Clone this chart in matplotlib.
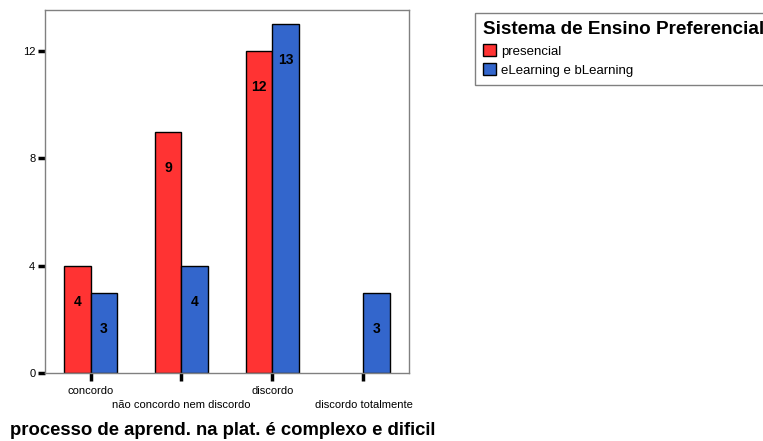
import numpy as np
import matplotlib.pyplot as plt
from matplotlib.patches import Patch

plt.rcParams['font.family'] = ['Liberation Sans', 'DejaVu Sans']

categories = ['concordo', 'não concordo nem discordo', 'discordo', 'discordo totalmente']
presencial = [4, 9, 12, 0]
elearning = [3, 4, 13, 3]
series_names = ['presencial', 'eLearning e bLearning']
colors = ['#ff3333', '#3366cc']

fig = plt.figure(figsize=(7.63, 4.41), dpi=100)
ax = fig.add_axes([0.059, 0.154, 0.477, 0.823])

x = np.arange(len(categories))
w = 0.29
for vals, off, c in [(presencial, -w / 2, colors[0]), (elearning, w / 2, colors[1])]:
    for xi, v in zip(x, vals):
        if v == 0:
            continue
        ax.bar(xi + off, v, width=w, color=c, edgecolor='black', linewidth=1.0, zorder=2)
        ax.annotate(str(v), (xi + off, v), xytext=(0, -26), textcoords='offset points',
                    ha='center', va='center', fontsize=10, fontweight='bold')

ax.set_xlim(-0.5, 3.5)
ax.set_ylim(0, 13.53)
ax.set_yticks([0, 4, 8, 12])
ax.set_xticks(x)
ax.set_xticklabels([c if i % 2 == 0 else '\n' + c for i, c in enumerate(categories)],
                   linespacing=1.6)
ax.tick_params(axis='x', length=6, width=2.5, color='black', labelsize=8, pad=3)
ax.tick_params(axis='y', length=5, width=2.5, color='black', labelsize=8, pad=2)
for s in ax.spines.values():
    s.set_color('#808080')
    s.set_linewidth(1.0)

ax.set_xlabel('processo de aprend. na plat. é complexo e dificil', fontsize=13.3,
              fontweight='bold')
ax.xaxis.set_label_coords(0.488, -0.135)

handles = [Patch(facecolor=c, edgecolor='black', label=n) for c, n in zip(colors, series_names)]
leg = fig.legend(handles=handles, title='Sistema de Ensino Preferencial', loc='upper left',
                 bbox_to_anchor=(0.6225, 0.97), borderaxespad=0, fontsize=9.5,
                 title_fontsize=13.6, frameon=True, fancybox=False, edgecolor='#606060',
                 handlelength=1.0, handleheight=1.0, handletextpad=0.4, labelspacing=0.45,
                 borderpad=0.6, alignment='left')
leg.get_title().set_fontweight('bold')

fig.savefig('out.png', dpi=100)
